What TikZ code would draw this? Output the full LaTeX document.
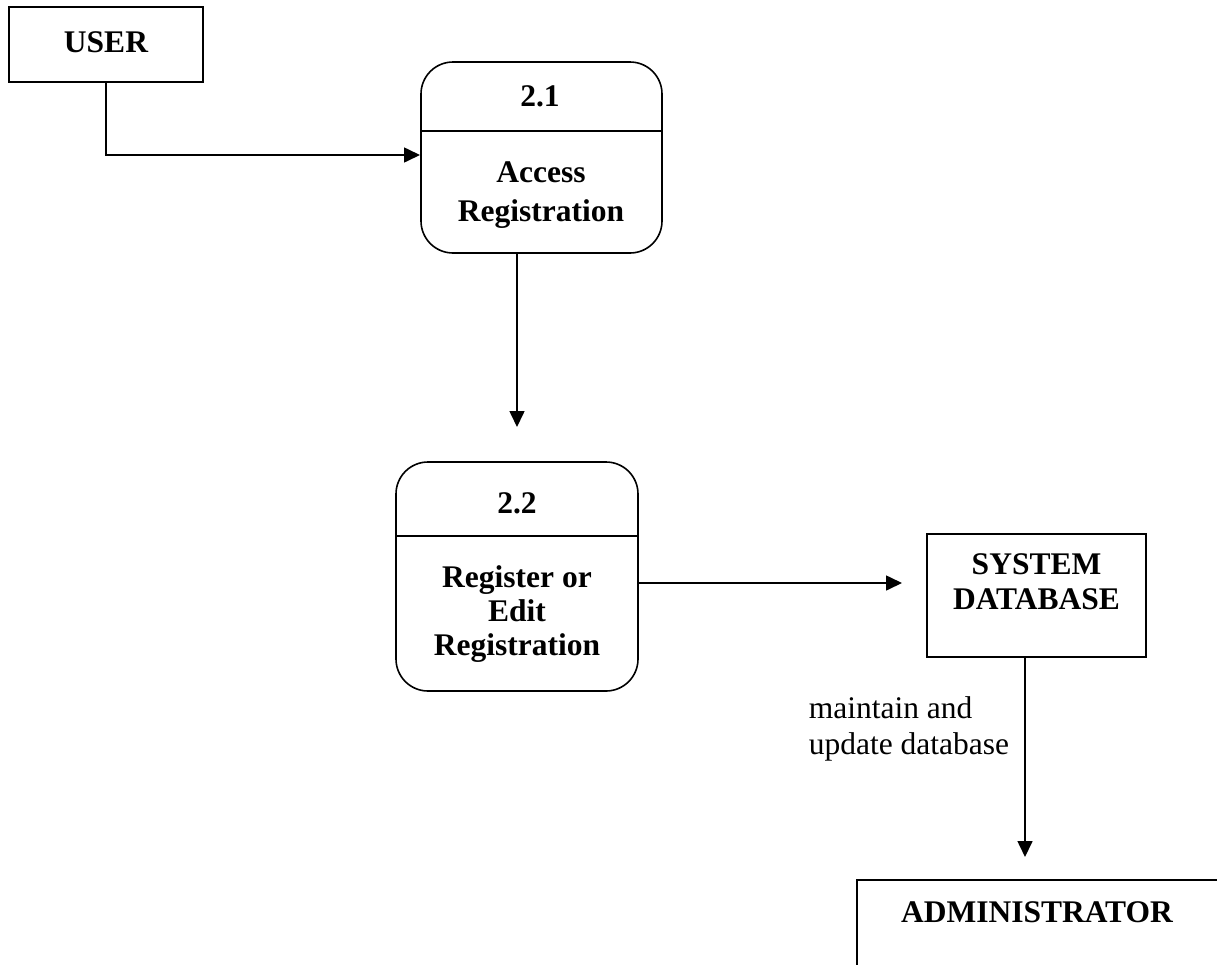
\documentclass[tikz,border=0pt]{standalone}
\usepackage{fontspec}
\setmainfont{Liberation Serif}
\usetikzlibrary{arrows.meta}
\begin{document}
\begin{tikzpicture}[x=1pt,y=-1pt,
  line width=1.6pt,
  flow/.style={-{Triangle[length=16pt,width=15pt]}},
  entity/.style={draw,rectangle,inner sep=0pt},
  process/.style={draw,rectangle,rounded corners=32pt,inner sep=0pt},
  title/.style={font=\fontsize{31.5}{37}\selectfont\bfseries,inner sep=0pt,anchor=base},
  body/.style={font=\fontsize{31.5}{#1}\selectfont\bfseries,inner sep=0pt,align=center},
  note/.style={font=\fontsize{31.5}{36}\selectfont,inner sep=0pt,align=left,anchor=west}]
\useasboundingbox (0,0) rectangle (1217,964);
\fill[white] (0,0) rectangle (1217,964);

% external entity: user
\node[entity,minimum width=194pt,minimum height=75pt] (user) at (106,44.5) {};
\node[title] (userlbl) at (106,52) {USER};

% process 2.1
\node[process,minimum width=241pt,minimum height=191pt] (p21) at (541.5,157.5) {};
\draw (p21.west |- 0,131) -- (p21.east |- 0,131);
\node[title] (p21id) at (540,106) {2.1};
\node[body=39] (p21txt) at (541,195) {Access\\Registration};

% process 2.2
\node[process,minimum width=242pt,minimum height=229pt] (p22) at (517,576.5) {};
\draw (p22.west |- 0,536) -- (p22.east |- 0,536);
\node[title] (p22id) at (517,513) {2.2};
\node[body=34] (p22txt) at (517,614) {Register or\\Edit\\Registration};

% data store: system database
\node[entity,minimum width=219pt,minimum height=123pt] (db) at (1036.5,595.5) {};
\node[body=35] (dbtxt) at (1036.5,582) {SYSTEM\\DATABASE};

% external entity: administrator (runs past the page edge)
\draw (857,980) coordinate (admBL) -- (857,880) -- (1240,880) coordinate (admTR);
\node[title] (adm) at (1037,922) {ADMINISTRATOR};

% data flows
\coordinate (in21) at (420,155);
\draw[flow] (user.south) |- (in21);

\coordinate (in22) at (517,427);
\draw[flow] (p21.south -| in22) -- (in22);

\coordinate (indb) at (902,583);
\draw[flow] (p22.east |- indb) -- (indb);

\coordinate (inadm) at (1025,857);
\draw[flow] (db.south -| inadm) -- (inadm);
\node[note] (flowlbl) at (808,729) {maintain and\\update database};
\end{tikzpicture}
\end{document}
